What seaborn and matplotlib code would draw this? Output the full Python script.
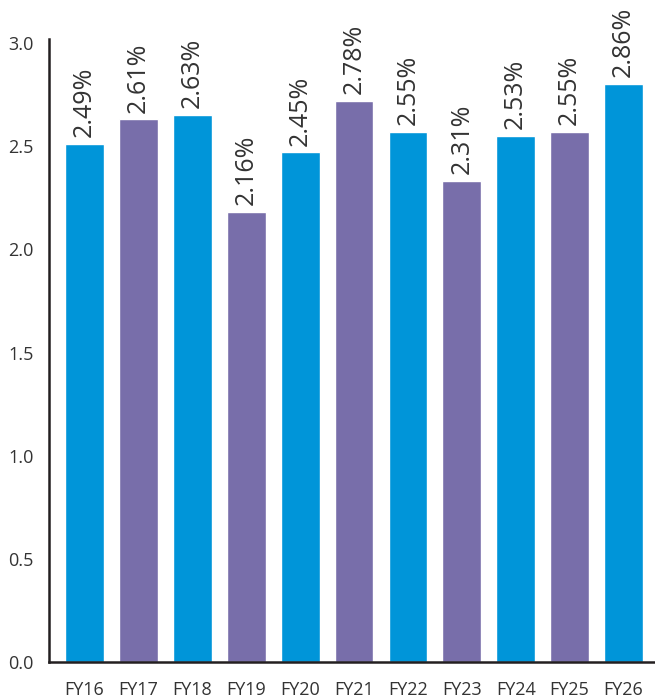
import matplotlib
matplotlib.use("Agg")
import matplotlib.pyplot as plt
import seaborn as sns
import pandas as pd

categories = ["FY16", "FY17", "FY18", "FY19", "FY20", "FY21", "FY22", "FY23", "FY24", "FY25", "FY26"]
values = [2.51, 2.63, 2.65, 2.18, 2.47, 2.72, 2.57, 2.33, 2.55, 2.57, 2.80]
labels = ["2.49%", "2.61%", "2.63%", "2.16%", "2.45%", "2.78%", "2.55%", "2.31%", "2.53%", "2.55%", "2.86%"]
colors = ["#0095d9", "#786eaa", "#0095d9", "#786eaa", "#0095d9", "#786eaa",
          "#0095d9", "#786eaa", "#0095d9", "#786eaa", "#0095d9"]
yticks = [0.0, 0.5, 1.0, 1.5, 2.0, 2.5, 3.0]

sns.set_theme(style="white")
plt.rcParams["font.family"] = ["Open Sans", "DejaVu Sans"]

df = pd.DataFrame({"cat": categories, "val": values})

fig = plt.figure(figsize=(6.55, 6.98), dpi=100)
ax = fig.add_axes([49 / 655, 36 / 698, 1 - 49 / 655, (662 - 39) / 698])

sns.barplot(data=df, x="cat", y="val", hue="cat", palette=colors, width=0.72,
            legend=False, ax=ax, saturation=1)

for i, (v, lab) in enumerate(zip(values, labels)):
    ax.annotate(lab, xy=(i, v), xytext=(0, 5), textcoords="offset points",
                rotation=90, ha="center", va="bottom", fontsize=18, color="#333333")

ax.set_xlim(-0.66, 10.585)
ax.set_ylim(0, 3.02)
ax.set_yticks(yticks)
ax.set_yticklabels([f"{t:.1f}" for t in yticks])
ax.set_xlabel("")
ax.set_ylabel("")
ax.tick_params(axis="both", length=0, labelsize=13, colors="#333333")
ax.tick_params(axis="y", pad=11)
ax.tick_params(axis="x", pad=14)
for s in ["top", "right"]:
    ax.spines[s].set_visible(False)
for s in ["left", "bottom"]:
    ax.spines[s].set_color("#231f20")
    ax.spines[s].set_linewidth(1.8)
ax.grid(False)

fig.savefig("out.png", dpi=100)
